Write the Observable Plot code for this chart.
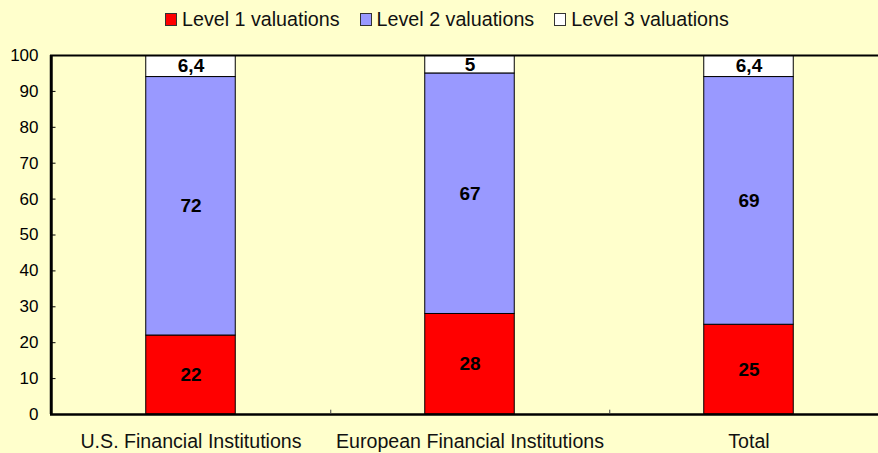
<!DOCTYPE html>
<html>
<head>
<meta charset="utf-8">
<script src="https://cdn.jsdelivr.net/npm/d3@7"></script>
<script src="https://cdn.jsdelivr.net/npm/@observablehq/plot@0.6"></script>
<style>
html, body { margin: 0; padding: 0; background: #FFFFCC; overflow: hidden; width: 878px; height: 453px; font-family: "Liberation Sans", Arial, sans-serif; color: #000; }
#legend { position: relative; height: 38px; }
#legend .row { position: absolute; left: 165px; top: 10px; display: flex; align-items: center; }
#legend .item { display: flex; align-items: center; margin-right: 20px; }
#legend .sw { width: 10px; height: 11px; border: 1px solid #333; margin-right: 5px; }
#legend .lb { font-size: 19.7px; line-height: 19px; color: #111; }
#chart svg { display: block; }
</style>
</head>
<body>
<div id="legend"><div class="row"></div></div>
<div id="chart"></div>
<script>
const categories = ["U.S. Financial Institutions", "European Financial Institutions", "Total"];
const series = ["Level 1 valuations", "Level 2 valuations", "Level 3 valuations"];
const level1 = [22, 28, 25];
const level2 = [72, 67, 69];
const level3 = [6.4, 5, 6.4];
const colors = ["#FF0000", "#9999FF", "#FFFFFF"];
const yTicks = [0, 10, 20, 30, 40, 50, 60, 70, 80, 90, 100];

const seriesValues = [level1, level2, level3];
const data = [];
categories.forEach((c, i) => {
  series.forEach((s, j) => {
    const v = seriesValues[j][i];
    data.push({category: c, series: s, value: v, label: String(v).replace(".", ",")});
  });
});

// legend
const row = document.querySelector("#legend .row");
series.forEach((s, j) => {
  const item = document.createElement("div");
  item.className = "item";
  const sw = document.createElement("div");
  sw.className = "sw";
  sw.style.background = colors[j];
  const lb = document.createElement("div");
  lb.className = "lb";
  lb.textContent = s;
  item.appendChild(sw);
  item.appendChild(lb);
  row.appendChild(item);
});

const step = 279.5;
const barW = 90;
const inset = (step - barW) / 2;

const chart = Plot.plot({
  width: 878,
  height: 415,
  marginTop: 17,
  marginBottom: 39,
  marginLeft: 50,
  marginRight: 0,
  style: {background: "transparent", fontFamily: "Liberation Sans, Arial, sans-serif", color: "#000", overflow: "visible"},
  x: {domain: categories, range: [50, 50 + 3 * step], padding: 0},
  y: {domain: [0, 100]},
  color: {domain: series, range: colors},
  marks: [
    Plot.barY(data, Plot.stackY({x: "category", y: "value", fill: "series", stroke: "#000", strokeWidth: 1, insetLeft: inset, insetRight: inset, clip: true})),
    Plot.text(data, Plot.stackY({x: "category", y: "value", z: "series", text: "label", fontWeight: "bold", fontSize: 19, fill: "#000"})),
    Plot.ruleY([100], {stroke: "#000", strokeWidth: 2}),
    Plot.ruleY([0], {stroke: "#000", strokeWidth: 2.5}),
    Plot.ruleX([categories[0]], {dx: -step / 2, y1: 0, y2: 100, stroke: "#000", strokeWidth: 3}),
    Plot.tickY(yTicks, {y: d => d, x: () => categories[0], insetRight: step - 5, stroke: "#000"}),
    Plot.ruleX(categories.slice(0, 2), {dx: step / 2, y1: 0, y2: 1.2, stroke: "#444"}),
    Plot.axisY({ticks: yTicks, tickSize: 0, tickPadding: 12, fontSize: 17, label: null}),
    Plot.axisX({tickSize: 0, tickPadding: 20, fontSize: 19.6, label: null, fill: "#111"})
  ]
});
document.getElementById("chart").appendChild(chart);
</script>
</body>
</html>
